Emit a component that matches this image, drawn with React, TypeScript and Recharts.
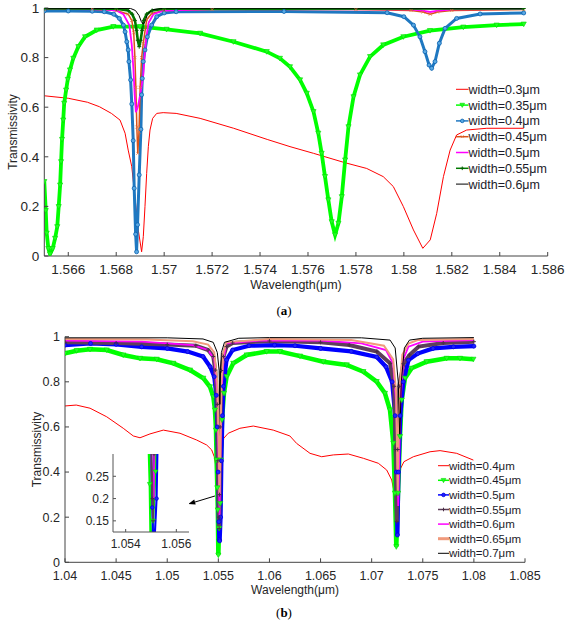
import React from 'react';
import { LineChart, Line, XAxis, YAxis, Legend, ReferenceLine, CartesianGrid } from 'recharts';

type P = [number, number];

// ---------- panel (a) data: wavelength (µm) vs transmissivity ----------
const A_X_TICKS = [1.566, 1.568, 1.57, 1.572, 1.574, 1.576, 1.578, 1.58, 1.582, 1.584, 1.586];
const Y_TICKS = [0, 0.2, 0.4, 0.6, 0.8, 1];

const A_W030: P[] = [
  [1.565, 0.646], [1.566, 0.636], [1.5668, 0.62], [1.5673, 0.602], [1.5678, 0.575], [1.56816, 0.548],
  [1.56837, 0.495], [1.5685, 0.427], [1.56865, 0.36], [1.56878, 0.239], [1.56892, 0.105], [1.56906, 0.017],
  [1.56913, 0.078], [1.5692, 0.199], [1.56927, 0.333], [1.56934, 0.441], [1.56941, 0.508], [1.56952, 0.555],
  [1.56969, 0.575], [1.56996, 0.578], [1.5705, 0.575], [1.5715, 0.555], [1.5729, 0.515], [1.5743, 0.47],
  [1.57525, 0.441], [1.57623, 0.414], [1.57755, 0.376], [1.57845, 0.353], [1.57914, 0.32], [1.57956, 0.28],
  [1.57998, 0.199], [1.5804, 0.105], [1.58079, 0.031], [1.5811, 0.065], [1.58137, 0.172], [1.58165, 0.32],
  [1.58193, 0.427], [1.5822, 0.488], [1.58262, 0.508], [1.58346, 0.515], [1.585, 0.515],
];
const A_W035: P[] = [
  [1.565, 0.3], [1.56506, 0.183], [1.5651, 0.092], [1.56517, 0.03], [1.56524, 0.008], [1.56535, 0.03],
  [1.56545, 0.071], [1.56554, 0.118], [1.5656, 0.199], [1.56566, 0.286], [1.5657, 0.38], [1.56574, 0.47],
  [1.56579, 0.548], [1.56583, 0.616], [1.56591, 0.669], [1.56598, 0.712], [1.56607, 0.75], [1.56621, 0.797],
  [1.56642, 0.844], [1.5667, 0.884], [1.56719, 0.911], [1.56788, 0.925], [1.56899, 0.925], [1.5701, 0.914],
  [1.5715, 0.898], [1.57289, 0.864], [1.57428, 0.824], [1.57483, 0.797], [1.57525, 0.763], [1.57567, 0.71],
  [1.57595, 0.656], [1.57623, 0.582], [1.57643, 0.495], [1.57657, 0.414], [1.57671, 0.32], [1.57685, 0.226],
  [1.57699, 0.138], [1.57713, 0.085], [1.57727, 0.132], [1.57741, 0.239], [1.57755, 0.387], [1.57769, 0.521],
  [1.5779, 0.642], [1.57817, 0.73], [1.57859, 0.804], [1.57914, 0.851], [1.57998, 0.884], [1.58109, 0.909],
  [1.58248, 0.923], [1.58387, 0.931], [1.585, 0.935],
];
const A_W040: P[] = [
  [1.565, 0.988], [1.566, 0.988], [1.567, 0.987], [1.5675, 0.985], [1.5679, 0.975], [1.56813, 0.958],
  [1.5683, 0.931], [1.56837, 0.904], [1.56844, 0.864], [1.5685, 0.831], [1.56853, 0.784], [1.5686, 0.71],
  [1.56865, 0.613], [1.56871, 0.465], [1.56875, 0.273], [1.56881, 0.088], [1.56885, 0.017], [1.56889, 0.126],
  [1.56896, 0.327], [1.56903, 0.511], [1.56906, 0.65], [1.56909, 0.716], [1.56913, 0.784], [1.5692, 0.831],
  [1.5693, 0.884], [1.56948, 0.931], [1.56969, 0.965], [1.57, 0.98], [1.5705, 0.985], [1.575, 0.986],
  [1.5793, 0.981], [1.58, 0.965], [1.5804, 0.931], [1.58067, 0.884], [1.58088, 0.824], [1.58105, 0.77],
  [1.58116, 0.757], [1.5813, 0.784], [1.58148, 0.858], [1.58172, 0.918], [1.5822, 0.958], [1.58318, 0.976],
  [1.585, 0.98],
];
const A_W045: P[] = [
  [1.565, 0.995], [1.567, 0.995], [1.568, 0.99], [1.5685, 0.975], [1.56865, 0.95], [1.56873, 0.9],
  [1.56878, 0.8], [1.56882, 0.68], [1.56886, 0.52], [1.5689, 0.414], [1.56895, 0.5], [1.569, 0.68],
  [1.56906, 0.8], [1.56913, 0.858], [1.56927, 0.952], [1.56948, 0.978], [1.57, 0.99], [1.572, 0.994],
  [1.578, 0.994], [1.5803, 0.99], [1.5808, 0.984], [1.5811, 0.975], [1.5814, 0.984], [1.582, 0.99], [1.585, 0.994],
];
const A_W050: P[] = [
  [1.565, 0.997], [1.5675, 0.995], [1.568, 0.99], [1.5683, 0.975], [1.56855, 0.93], [1.56865, 0.85],
  [1.56872, 0.75], [1.56877, 0.65], [1.56882, 0.58], [1.5689, 0.6], [1.569, 0.65], [1.56912, 0.72],
  [1.56918, 0.8], [1.56925, 0.88], [1.56935, 0.94], [1.56955, 0.975], [1.57, 0.99], [1.572, 0.996],
  [1.5803, 0.995], [1.5807, 0.99], [1.5811, 0.984], [1.5815, 0.99], [1.582, 0.995], [1.585, 0.996],
];
const A_W055: P[] = [
  [1.565, 0.998], [1.568, 0.997], [1.5685, 0.99], [1.56867, 0.975], [1.56878, 0.95], [1.56885, 0.91],
  [1.5689, 0.87], [1.56896, 0.844], [1.56902, 0.87], [1.56908, 0.91], [1.56915, 0.95], [1.56927, 0.975],
  [1.5695, 0.99], [1.57, 0.997], [1.585, 0.998],
];
const A_W060: P[] = [
  [1.565, 0.999], [1.5686, 0.998], [1.5688, 0.99], [1.56895, 0.97], [1.56905, 0.945], [1.56913, 0.935],
  [1.5692, 0.945], [1.5693, 0.975], [1.5695, 0.993], [1.57, 0.999], [1.585, 0.999],
];

// ---------- panel (b) data ----------
const B_X_TICKS = [1.04, 1.045, 1.05, 1.055, 1.06, 1.065, 1.07, 1.075, 1.08, 1.085];
const INSET_X_TICKS = [1.054, 1.056];
const INSET_Y_TICKS = [0.15, 0.2, 0.25];
const ARROW: P[] = [[1.05467, 0.294], [1.05206, 0.258]];

const B_W040: P[] = [
  [1.04, 0.693], [1.0411, 0.697], [1.04245, 0.683], [1.04408, 0.645], [1.0457, 0.594], [1.04668, 0.56],
  [1.04734, 0.552], [1.04831, 0.569], [1.04962, 0.586], [1.05125, 0.572], [1.05288, 0.542], [1.05386, 0.52],
  [1.05435, 0.498], [1.0546, 0.468], [1.05477, 0.424], [1.0549, 0.33], [1.05502, 0.24], [1.05508, 0.2],
  [1.05515, 0.24], [1.0552, 0.3], [1.0553, 0.46], [1.05553, 0.55], [1.05597, 0.572], [1.05711, 0.594],
  [1.05842, 0.604], [1.06037, 0.586], [1.062, 0.56], [1.06266, 0.527], [1.06397, 0.483], [1.06511, 0.468],
  [1.06625, 0.476], [1.06772, 0.48], [1.06919, 0.461], [1.07065, 0.439], [1.07147, 0.409], [1.07196, 0.365],
  [1.07225, 0.3], [1.0725, 0.2], [1.07265, 0.3], [1.07284, 0.417], [1.07316, 0.446], [1.07408, 0.468],
  [1.07571, 0.49], [1.07669, 0.495], [1.07832, 0.483], [1.07995, 0.453],
];
const B_W045: P[] = [
  [1.04, 0.926], [1.04114, 0.938], [1.04245, 0.944], [1.04408, 0.941], [1.0457, 0.919], [1.04734, 0.904],
  [1.04897, 0.9], [1.0506, 0.882], [1.05223, 0.852], [1.05353, 0.816], [1.05418, 0.778], [1.05451, 0.734],
  [1.05467, 0.675], [1.05477, 0.586], [1.05483, 0.453], [1.0549, 0.33], [1.05495, 0.232], [1.055, 0.032],
  [1.05508, 0.15], [1.05518, 0.26], [1.05525, 0.453], [1.05536, 0.631], [1.05555, 0.749], [1.05581, 0.823],
  [1.05646, 0.882], [1.05777, 0.919], [1.05973, 0.934], [1.06103, 0.934], [1.06299, 0.914], [1.06527, 0.889],
  [1.06756, 0.875], [1.06919, 0.845], [1.07049, 0.801], [1.0713, 0.749], [1.07179, 0.675], [1.07212, 0.527],
  [1.07228, 0.306], [1.07241, 0.069], [1.07258, 0.306], [1.07277, 0.557], [1.07294, 0.719], [1.07326, 0.816],
  [1.07391, 0.86], [1.07538, 0.889], [1.07734, 0.904], [1.07864, 0.904], [1.07995, 0.9],
];
const B_W050: P[] = [
  [1.04, 0.963], [1.0425, 0.97], [1.045, 0.966], [1.0475, 0.955], [1.05, 0.948], [1.052, 0.934],
  [1.0535, 0.912], [1.0542, 0.867], [1.0546, 0.823], [1.0548, 0.74], [1.0549, 0.6], [1.05498, 0.4],
  [1.05505, 0.18], [1.05509, 0.1], [1.05513, 0.095], [1.05522, 0.2], [1.0553, 0.45], [1.0554, 0.65],
  [1.0555, 0.78], [1.0558, 0.897], [1.0564, 0.941], [1.058, 0.96], [1.0605, 0.963], [1.0625, 0.96],
  [1.065, 0.948], [1.068, 0.935], [1.0705, 0.91], [1.0714, 0.867], [1.072, 0.8], [1.0723, 0.65],
  [1.07242, 0.4], [1.07252, 0.121], [1.07262, 0.4], [1.0728, 0.65], [1.0731, 0.8], [1.0736, 0.896],
  [1.0745, 0.925], [1.076, 0.948], [1.078, 0.955], [1.08, 0.958],
];
const B_W055: P[] = [
  [1.04, 0.975], [1.045, 0.972], [1.05, 0.965], [1.0528, 0.96], [1.054, 0.941], [1.0545, 0.912],
  [1.0547, 0.852], [1.0549, 0.7], [1.05496, 0.45], [1.05505, 0.2], [1.05508, 0.15], [1.05512, 0.3],
  [1.05518, 0.6], [1.0553, 0.85], [1.0555, 0.912], [1.0558, 0.956], [1.0564, 0.972], [1.06, 0.981],
  [1.065, 0.975], [1.0678, 0.963], [1.0705, 0.934], [1.0718, 0.882], [1.0722, 0.78], [1.07235, 0.5],
  [1.07245, 0.18], [1.07255, 0.5], [1.0727, 0.78], [1.0731, 0.88], [1.0737, 0.919], [1.0746, 0.956],
  [1.077, 0.972], [1.08, 0.978],
];
const B_W060: P[] = [
  [1.04, 0.983], [1.0475, 0.978], [1.0525, 0.963], [1.054, 0.941], [1.0546, 0.9], [1.0549, 0.75],
  [1.05502, 0.45], [1.05512, 0.2], [1.0552, 0.45], [1.0553, 0.75], [1.0555, 0.9], [1.0558, 0.97],
  [1.059, 0.983], [1.065, 0.983], [1.069, 0.97], [1.0714, 0.941], [1.0721, 0.88], [1.0724, 0.7],
  [1.0726, 0.25], [1.0728, 0.7], [1.0731, 0.9], [1.0736, 0.956], [1.075, 0.978], [1.08, 0.985],
];
const B_W065: P[] = [
  [1.04, 0.99], [1.048, 0.988], [1.0525, 0.98], [1.054, 0.965], [1.0546, 0.93], [1.0549, 0.8],
  [1.05505, 0.5], [1.05512, 0.3], [1.0552, 0.5], [1.0553, 0.8], [1.0555, 0.93], [1.0558, 0.975],
  [1.06, 0.99], [1.068, 0.985], [1.0712, 0.96], [1.0721, 0.9], [1.0724, 0.75], [1.07255, 0.3],
  [1.0727, 0.75], [1.073, 0.92], [1.0736, 0.97], [1.0745, 0.985], [1.08, 0.99],
];
const B_W070: P[] = [
  [1.04, 0.995], [1.05, 0.995], [1.0535, 0.99], [1.0545, 0.975], [1.0549, 0.93], [1.05508, 0.85],
  [1.05515, 0.7], [1.05522, 0.85], [1.0553, 0.93], [1.0556, 0.975], [1.057, 0.993], [1.06, 0.996],
  [1.069, 0.995], [1.0718, 0.985], [1.0723, 0.95], [1.0726, 0.8], [1.07275, 0.55], [1.0729, 0.8],
  [1.0732, 0.95], [1.0737, 0.985], [1.075, 0.993], [1.08, 0.996],
];

// ---------- styling ----------
const FONT = 'Arial, "Liberation Sans", Helvetica, sans-serif';
const AXIS = '#444';
const TXT = '#262626';

type Mark = 'tri' | 'circ' | 'plus' | 'x' | undefined;
interface S { name: string; data: P[]; color: string; w: number; mark?: Mark; mc?: string; mf?: string; ms?: number; lw?: number }

const SERIES_A: S[] = [
  { name: 'width=0.3μm', data: A_W030, color: '#ff0000', w: 1 },
  { name: 'width=0.35μm', data: A_W035, color: '#00ff00', w: 3.8, mark: 'tri', mc: '#00dd00', mf: '#22ff22', ms: 2.6 },
  { name: 'width=0.4μm', data: A_W040, color: '#1f78c1', w: 3, mark: 'circ', mc: '#0a62b0', mf: '#5aa8e2', ms: 2 },
  { name: 'width=0.45μm', data: A_W045, color: '#d95319', w: 1.5, mark: 'x', mc: '#e07040', ms: 1.5 },
  { name: 'width=0.5μm', data: A_W050, color: '#ff00ff', w: 1.8 },
  { name: 'width=0.55μm', data: A_W055, color: '#007a00', w: 2.6, mark: 'plus', mc: '#006000', ms: 2 },
  { name: 'width=0.6μm', data: A_W060, color: '#000000', w: 1 },
];
const SERIES_B: S[] = [
  { name: 'width=0.4μm', data: B_W040, color: '#ff0000', w: 1 },
  { name: 'width=0.45μm', data: B_W045, color: '#00ff00', w: 4.5, mark: 'tri', mc: '#00dd00', mf: '#22ff22', ms: 2.6 },
  { name: 'width=0.5μm', data: B_W050, color: '#0000ff', w: 4.2, mark: 'circ', mc: '#0000dd', mf: '#2020ff', ms: 2 },
  { name: 'width=0.55μm', data: B_W055, color: '#5e3f5a', w: 4, mark: 'plus', mc: '#4a2e46', ms: 2 },
  { name: 'width=0.6μm', data: B_W060, color: '#ff00ff', w: 1.8 },
  { name: 'width=0.65μm', data: B_W065, color: '#f09a7c', w: 2, lw: 3 },
  { name: 'width=0.7μm', data: B_W070, color: '#000000', w: 1 },
];

const pts = (a: P[]) => a.map(([x, y]) => ({ x, y }));

function drawMark(kind: Mark, cx: number, cy: number, s: S, k: string, scale = 1) {
  const sz = (s.ms || 2) * scale;
  const c = s.mc || s.color;
  const f = s.mf || s.color;
  switch (kind) {
    case 'tri':
      return <path key={k} d={`M${cx - sz},${cy - sz * 0.8}L${cx + sz},${cy - sz * 0.8}L${cx},${cy + sz}Z`} fill={f} stroke={c} strokeWidth={0.6} />;
    case 'circ':
      return <circle key={k} cx={cx} cy={cy} r={sz} fill={f} stroke={c} strokeWidth={0.8} />;
    case 'plus':
      return <path key={k} d={`M${cx - sz},${cy}H${cx + sz}M${cx},${cy - sz}V${cy + sz}`} stroke={c} strokeWidth={1} fill="none" />;
    case 'x':
      return <path key={k} d={`M${cx - sz},${cy - sz}L${cx + sz},${cy + sz}M${cx - sz},${cy + sz}L${cx + sz},${cy - sz}`} stroke={c} strokeWidth={0.8} fill="none" />;
    default:
      return <g key={k} />;
  }
}

const dotFn = (s: S, scale = 1) => (p: any) => {
  const k = 'd' + p.index;
  if (p.cx == null || p.cy == null || isNaN(p.cx) || isNaN(p.cy)) return <g key={k} />;
  return drawMark(s.mark, p.cx, p.cy, s, k, scale);
};

function renderLines(series: S[], wScale = 1, mScale = 1) {
  return series.map((s) => (
    <Line
      key={s.name}
      name={s.name}
      data={pts(s.data)}
      dataKey="y"
      type="linear"
      stroke={s.color}
      strokeWidth={s.w * wScale}
      dot={s.mark ? dotFn(s, mScale) : false}
      activeDot={false}
      isAnimationActive={false}
      legendType="none"
    />
  ));
}

function LegendBox({ series, rowH, firstY, lineLen, fontSize, width }: { series: S[]; rowH: number; firstY: number; lineLen: number; fontSize: number; width: number }) {
  const h = firstY * 2 + rowH * (series.length - 1);
  return (
    <svg width={width} height={h} style={{ display: 'block', overflow: 'visible' }}>
      {series.map((s, i) => {
        const y = firstY + i * rowH;
        return (
          <g key={s.name}>
            <line x1={1} x2={1 + lineLen} y1={y} y2={y} stroke={s.color} strokeWidth={s.lw || Math.min(s.w, 1.5)} />
            {s.mark ? drawMark(s.mark, 1 + lineLen / 2, y, s, 'm' + i, 0.9) : null}
            <text x={1 + lineLen} y={y} dy="0.36em" fontSize={fontSize} fontFamily={FONT} fill="#1c1c2a">{s.name}</text>
          </g>
        );
      })}
    </svg>
  );
}

const fmt = (v: number) => String(v);
const blank = () => '';

const YLabel = (dx: number, fontSize: number) => (p: any) => {
  const vb = p.viewBox || {};
  const x = vb.x + dx;
  const y = vb.y + vb.height / 2;
  return (
    <text x={x} y={y} transform={`rotate(-90, ${x}, ${y})`} textAnchor="middle" fontSize={fontSize} fontFamily={FONT} fill={TXT}>
      Transmissivity
    </text>
  );
};
const XLabel = (dy: number, fontSize: number) => (p: any) => {
  const vb = p.viewBox || {};
  return (
    <text x={vb.x + vb.width / 2} y={vb.y + dy} textAnchor="middle" fontSize={fontSize} fontFamily={FONT} fill={TXT}>
      Wavelength(μm)
    </text>
  );
};

const ArrowShape = (p: any) => {
  const { x1, y1, x2, y2 } = p;
  const ang = Math.atan2(y2 - y1, x2 - x1);
  const L = 7, W = 2.6;
  const bx = x2 - L * Math.cos(ang), by = y2 - L * Math.sin(ang);
  const nx = -Math.sin(ang) * W, ny = Math.cos(ang) * W;
  return (
    <g>
      <line x1={x1} y1={y1} x2={bx} y2={by} stroke="#000" strokeWidth={1} />
      <path d={`M${x2},${y2}L${bx + nx},${by + ny}L${bx - nx},${by - ny}Z`} fill="#000" />
    </g>
  );
};

function PanelA() {
  const tick = { fontSize: 13.5, fill: TXT, fontFamily: FONT };
  return (
    <LineChart width={568} height={300} margin={{ top: 8, right: 20.3, bottom: 14, left: 14.3 }}>
      <XAxis dataKey="x" type="number" domain={[1.565, 1.586]} ticks={A_X_TICKS} interval={0} allowDataOverflow
        tickFormatter={fmt} stroke={AXIS} tick={tick} tickSize={-4} tickMargin={12} height={30}
        label={{ content: XLabel(33, 12.5) }} />
      <XAxis xAxisId="top" orientation="top" dataKey="x" type="number" domain={[1.565, 1.586]} ticks={A_X_TICKS}
        interval={0} allowDataOverflow tickFormatter={blank} stroke={AXIS} tickSize={-4} height={0} />
      <YAxis type="number" domain={[0, 1]} ticks={Y_TICKS} interval={0} allowDataOverflow tickFormatter={fmt}
        stroke={AXIS} tick={tick} tickSize={-4} tickMargin={9} width={30} label={{ content: YLabel(3, 12) }} />
      <YAxis yAxisId="right" orientation="right" type="number" domain={[0, 1]} ticks={Y_TICKS} interval={0}
        tickFormatter={blank} stroke={AXIS} tickSize={-4} width={0} />
      {renderLines(SERIES_A)}
      <Legend layout="vertical" align="center" verticalAlign="middle"
        wrapperStyle={{ left: 455, top: 80, width: 110, height: 115 }}
        content={() => <LegendBox series={SERIES_A} rowH={15.8} firstY={9.3} lineLen={12.5} fontSize={12.5} width={110} />} />
    </LineChart>
  );
}

function PanelB() {
  const tick = { fontSize: 12.5, fill: TXT, fontFamily: FONT };
  return (
    <LineChart width={568} height={290} margin={{ top: 18.7, right: 43, bottom: 15.7, left: 25 }}>
      <XAxis dataKey="x" type="number" domain={[1.04, 1.085]} ticks={B_X_TICKS} interval={0} allowDataOverflow
        tickFormatter={fmt} stroke={AXIS} tick={tick} tickSize={-4} tickMargin={13} height={30}
        label={{ content: XLabel(32, 12) }} />
      <XAxis xAxisId="top" orientation="top" dataKey="x" type="number" domain={[1.04, 1.085]} ticks={B_X_TICKS}
        interval={0} allowDataOverflow tickFormatter={blank} stroke={AXIS} tickSize={-4} height={0} />
      <YAxis type="number" domain={[0, 1]} ticks={Y_TICKS} interval={0} allowDataOverflow tickFormatter={fmt}
        stroke={AXIS} tick={tick} tickSize={-4} tickMargin={9} width={40} label={{ content: YLabel(16.3, 12) }} />
      <YAxis yAxisId="right" orientation="right" type="number" domain={[0, 1]} ticks={Y_TICKS} interval={0}
        tickFormatter={blank} stroke={AXIS} tickSize={-4} width={0} />
      {renderLines(SERIES_B)}
      <ReferenceLine segment={[{ x: ARROW[0][0], y: ARROW[0][1] }, { x: ARROW[1][0], y: ARROW[1][1] }]}
        shape={ArrowShape} stroke="#000" ifOverflow="visible" />
      <Legend layout="vertical" align="center" verticalAlign="middle"
        wrapperStyle={{ left: 437, top: 140, width: 110, height: 104 }}
        content={() => <LegendBox series={SERIES_B} rowH={14.6} firstY={7.7} lineLen={11} fontSize={11.5} width={110} />} />
    </LineChart>
  );
}

function Inset() {
  const tick = { fontSize: 12, fill: TXT, fontFamily: FONT };
  return (
    <LineChart width={117} height={109} margin={{ top: 6, right: 6, bottom: 0, left: 0 }}>
      <CartesianGrid horizontal={false} vertical={false} fill="#ffffff" />
      <XAxis dataKey="x" type="number" domain={[1.0535, 1.0565]} ticks={INSET_X_TICKS} interval={0} allowDataOverflow
        tickFormatter={fmt} stroke="#555" tick={tick} tickSize={-3} tickMargin={10.5} height={25} />
      <XAxis xAxisId="top" orientation="top" dataKey="x" type="number" domain={[1.0535, 1.0565]} ticks={INSET_X_TICKS}
        interval={0} allowDataOverflow tickFormatter={blank} stroke="#555" tickSize={-3} height={0} />
      <YAxis type="number" domain={[0.125, 0.3]} ticks={INSET_Y_TICKS} interval={0} allowDataOverflow tickFormatter={fmt}
        stroke="#555" tick={tick} tickSize={-3} tickMargin={7} width={35} />
      <YAxis yAxisId="right" orientation="right" type="number" domain={[0.125, 0.3]} ticks={INSET_Y_TICKS} interval={0}
        allowDataOverflow tickFormatter={blank} stroke="#555" tickSize={-3} width={0} />
      {renderLines(SERIES_B, 0.5, 0.9)}
    </LineChart>
  );
}

const capStyle: React.CSSProperties = {
  position: 'absolute', width: 40, textAlign: 'center', fontFamily: '"Liberation Serif", "Times New Roman", serif',
  fontSize: 13, color: '#000', lineHeight: '14px',
};

export default function App() {
  return (
    <div style={{ position: 'absolute', left: 0, top: 0, width: 568, height: 629, background: '#fff', overflow: 'hidden' }}>
      <div style={{ position: 'absolute', left: 0, top: 0 }}>
        <PanelA />
      </div>
      <div style={{ ...capStyle, left: 264, top: 304 }}>(<b>a</b>)</div>
      <div style={{ position: 'absolute', left: 0, top: 318 }}>
        <PanelB />
      </div>
      <div style={{ position: 'absolute', left: 78, top: 448, zIndex: 2 }}>
        <Inset />
      </div>
      <div style={{ ...capStyle, left: 264, top: 606 }}>(<b>b</b>)</div>
    </div>
  );
}
